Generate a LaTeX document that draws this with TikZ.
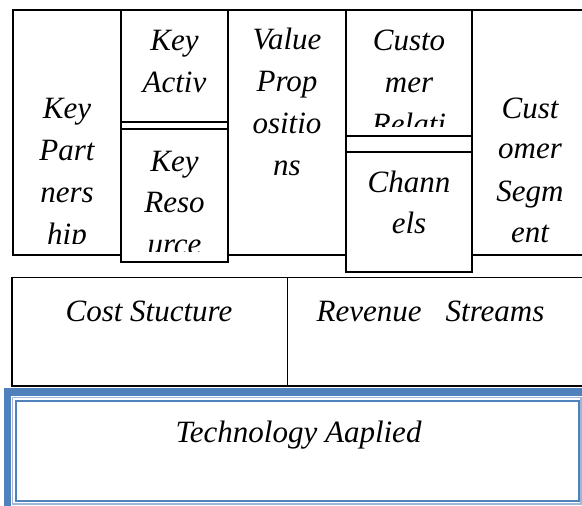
\documentclass[tikz,border=0pt]{standalone}
\usepackage{fontspec}
\setmainfont{Liberation Serif}
\definecolor{wordblue}{HTML}{4F81BD}
\definecolor{paleblue}{HTML}{9DB7DA}
\begin{document}
\begin{tikzpicture}[x=1pt,y=-1pt,
  rule/.style={draw=black,line width=1.6pt},
  box/.style={draw=black,line width=1.6pt,fill=white,rectangle,inner sep=0pt,outer sep=0pt,anchor=north west},
  lbl/.style={anchor=base,inner sep=0pt,font=\fontsize{31}{42}\selectfont\itshape}]
\useasboundingbox (0,0) rectangle (582,506);
\clip (0,0) rectangle (582,506);

% canvas grid of the top row
\draw[rule] (12.7,10) rectangle (600,255);
\foreach \x in {121,228,346,472} \draw[rule] (\x,10) -- (\x,255);

% overlaid text boxes
\node[box,minimum width=107pt,minimum height=112pt] (ka) at (121,10) {};
\node[box,minimum width=107pt,minimum height=133pt] (kr) at (121,129) {};
\node[box,minimum width=126pt,minimum height=126pt] (cr) at (346,10) {};
\node[box,minimum width=126pt,minimum height=120pt] (ch) at (346,152) {};

% Key Partnership
\begin{scope}
\clip (14,12) rectangle (120,243);
\node[lbl] (kp1) at (67,118) {Key};
\node[lbl] (kp2) at (67,160) {Part};
\node[lbl] (kp3) at (67,202) {ners};
\node[lbl] (kp4) at (67,244) {hip};
\end{scope}

% Key Activities
\node[lbl] (ka1) at (174.5,50.5) {Key};
\node[lbl] (ka2) at (174.5,92) {Activ};

% Key Resources
\begin{scope}
\clip (kr.north west) rectangle ([yshift=11pt]kr.south east);
\node[lbl] (kr1) at (174.5,171) {Key};
\node[lbl] (kr2) at (174.5,212.5) {Reso};
\node[lbl] (kr3) at (174.5,254) {urce};
\end{scope}

% Value Propositions
\node[lbl] (vp1) at (287,49.5) {Value};
\node[lbl] (vp2) at (287,91) {Prop};
\node[lbl] (vp3) at (287,133) {ositio};
\node[lbl] (vp4) at (287,175) {ns};

% Customer Relationships
\begin{scope}
\clip (cr.north west) rectangle ([yshift=9.5pt]cr.south east);
\node[lbl] (cr1) at (409,50.5) {Custo};
\node[lbl] (cr2) at (409,92) {mer};
\node[lbl] (cr3) at (409,134) {Relati};
\end{scope}

% Channels
\node[lbl] (ch1) at (409,192.7) {Chann};
\node[lbl] (ch2) at (409,233.3) {els};

% Customer Segments
\node[lbl] (cs1) at (530,118.3) {Cust};
\node[lbl] (cs2) at (530,158.3) {omer};
\node[lbl] (cs3) at (530,201.7) {Segm};
\node[lbl] (cs4) at (530,242.7) {ent};

% cost and revenue row
\draw[rule] (12,277.5) rectangle (600,386);
\draw[rule] (287.3,277.5) -- (287.3,386);
\node[lbl] (cost) at (149,321) {Cost Stucture};
\node[lbl] (rev) at (430.5,321) {Revenue\hspace{24pt}Streams};

% technology band with thick-thin blue border
\fill[wordblue] (4,388) rectangle (600,396);
\fill[wordblue] (4,388) rectangle (11,506);
\draw[paleblue,line width=1.2pt] (12.7,397.5) rectangle (581,504);
\draw[wordblue,line width=2pt] (15.8,401) rectangle (579,501);
\node[lbl] (tech) at (298.5,442) {Technology Aaplied};
\end{tikzpicture}
\end{document}
